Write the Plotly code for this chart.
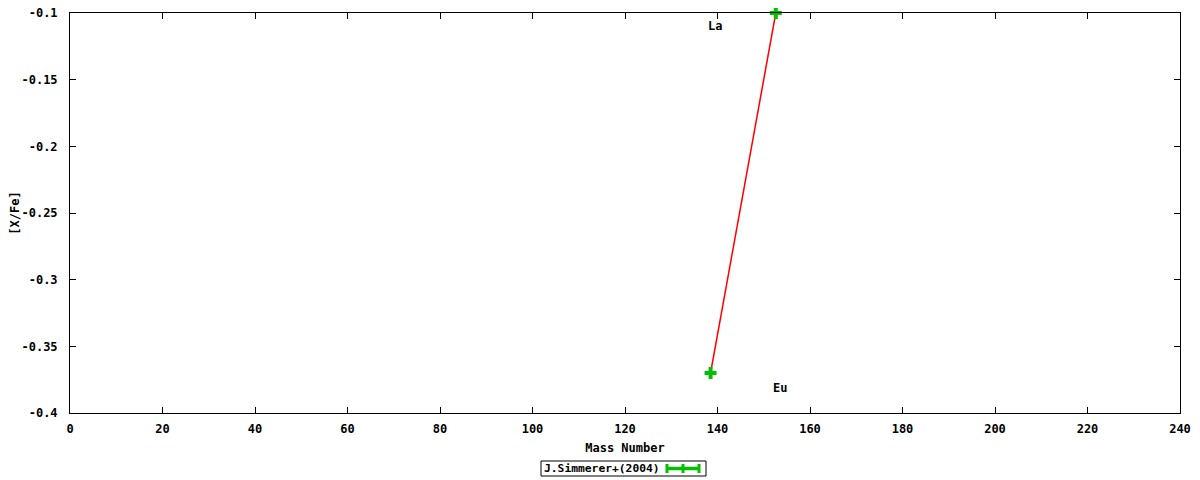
import plotly.graph_objects as go

elements = ["La", "Eu"]
mass = [138.5, 152.6]
xfe = [-0.37, -0.10]
label_x = [139.5, 153.5]
label_y = [-0.11, -0.381]
series_name = "J.Simmerer+(2004)"

x_ticks = list(range(0, 241, 20))
y_ticks = [-0.4, -0.35, -0.3, -0.25, -0.2, -0.15, -0.1]
y_tick_text = ["-0.4", "-0.35", "-0.3", "-0.25", "-0.2", "-0.15", "-0.1"]

FONT = dict(family="DejaVu Sans Mono", size=12, color="black")
GREEN = "#00c000"

fig = go.Figure()
fig.add_trace(go.Scatter(
    x=mass, y=xfe, mode="lines+markers",
    line=dict(color="#ff0000", width=1.5),
    marker=dict(symbol="cross", size=10, color=GREEN, line=dict(width=0)),
    showlegend=False, cliponaxis=False,
))
for el, lx, ly in zip(elements, label_x, label_y):
    fig.add_annotation(x=lx, y=ly, text="<b>%s</b>" % el, showarrow=False,
                       font=FONT, xanchor="center", yanchor="middle")

# legend (gnuplot style: text then errorbar sample, boxed); page pixels -> paper
def px_x(p):
    return (p - 70) / 1110.0

def px_y(p):
    return (413 - p) / 400.0

fig.add_shape(type="rect", xref="paper", yref="paper",
              x0=px_x(541), x1=px_x(706), y0=px_y(476), y1=px_y(461),
              line=dict(color="black", width=1), fillcolor="rgba(0,0,0,0)")
fig.add_annotation(xref="paper", yref="paper", x=px_x(542), y=px_y(468.5),
                   text="<b>%s</b>" % series_name, showarrow=False,
                   xanchor="left", yanchor="middle",
                   font=dict(family="DejaVu Sans Mono", size=11.3, color="black"))
fig.add_shape(type="line", xref="paper", yref="paper",
              x0=px_x(666), x1=px_x(700), y0=px_y(468.5), y1=px_y(468.5),
              line=dict(color=GREEN, width=3.5))
for cx in (667, 683, 699):
    fig.add_shape(type="line", xref="paper", yref="paper",
                  x0=px_x(cx), x1=px_x(cx), y0=px_y(464), y1=px_y(473),
                  line=dict(color=GREEN, width=3))

axis_common = dict(
    showgrid=False, zeroline=False, showline=True, linecolor="black", linewidth=1,
    mirror="ticks", ticks="inside", ticklen=6, tickcolor="black",
    tickfont=FONT, automargin=False, ticklabeloverflow="allow",
)
fig.update_xaxes(range=[0, 240], tickvals=x_ticks,
                 ticktext=["<b>%d</b>" % v for v in x_ticks],
                 title=dict(text="<b>Mass Number</b>", font=FONT, standoff=8),
                 ticklabelstandoff=5,
                 **axis_common)
fig.update_yaxes(range=[-0.4, -0.1], tickvals=y_ticks,
                 ticktext=["<b>%s</b>" % t for t in y_tick_text],
                 title=dict(text="<b>[X/Fe]</b>", font=FONT, standoff=12),
                 ticklabelstandoff=9,
                 **axis_common)
# page has an 8px body margin, so the figure is sized/offset to compensate
fig.update_layout(
    width=1192, height=472,
    margin=dict(l=62, r=20, t=5, b=67),
    plot_bgcolor="white", paper_bgcolor="white",
    font=FONT, showlegend=False,
)
fig.write_html("out.html")
